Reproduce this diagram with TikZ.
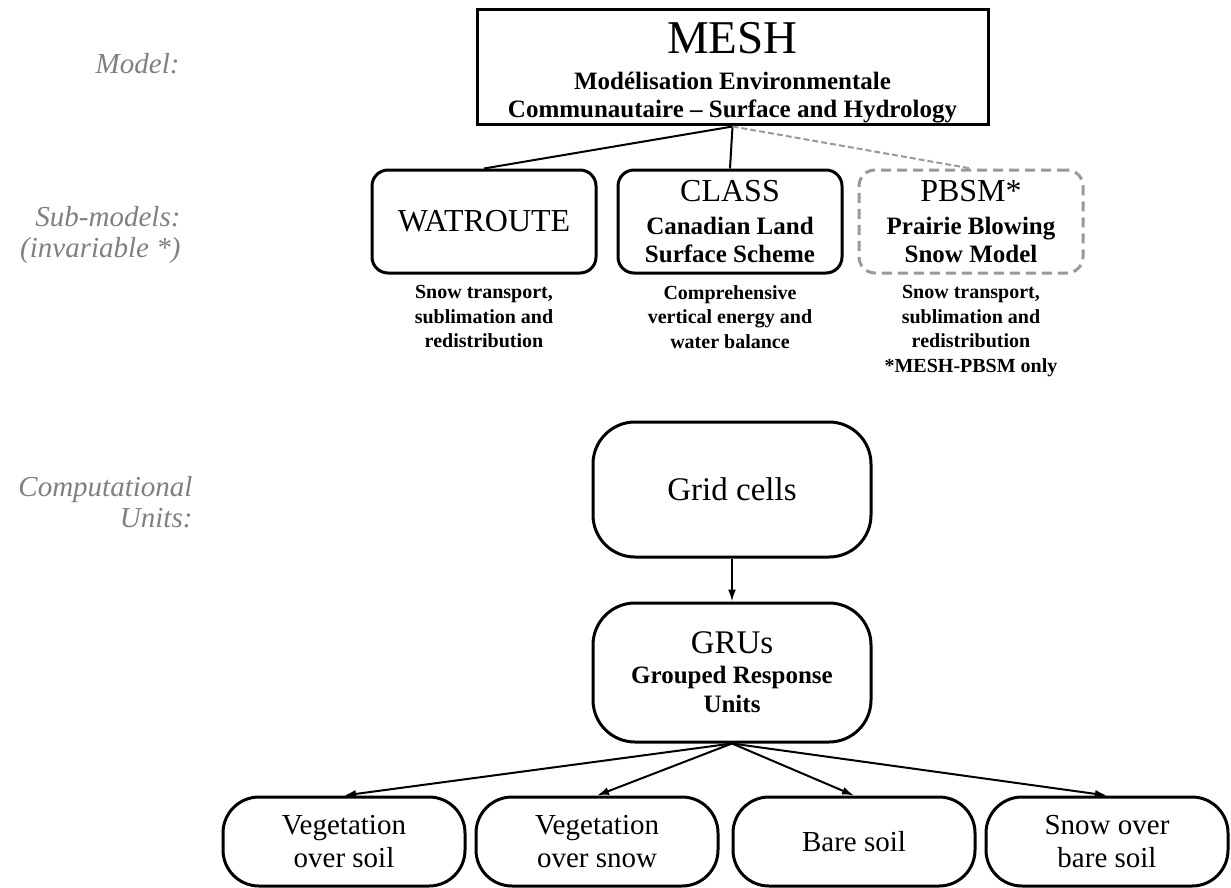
\documentclass[tikz,border=0pt]{standalone}
\usepackage{fontspec}
\setmainfont{Liberation Serif}
\usetikzlibrary{arrows.meta}

\begin{document}
\begin{tikzpicture}[x=1pt, y=-1pt,
    model box/.style={draw, line width=3pt, minimum width=511pt, minimum height=115pt,
                      inner sep=0pt, align=center, font=\fontsize{25}{28}\selectfont\bfseries},
    sub box/.style={draw, line width=3pt, rounded corners=16pt, minimum width=224pt,
                    minimum height=103pt, inner sep=0pt, align=center},
    unit box/.style={draw, line width=3pt, rounded corners=42pt, minimum width=278pt,
                     inner sep=0pt, align=center},
    leaf box/.style={draw, line width=3pt, rounded corners=36pt, minimum width=242pt,
                     minimum height=89pt, inner sep=0pt, align=center,
                     font=\fontsize{29}{33}\selectfont},
    row label/.style={anchor=east, align=right, text=black!50,
                      font=\fontsize{29}{31}\selectfont\itshape},
    note text/.style={anchor=north, align=center, font=\fontsize{20}{24.5}\selectfont\bfseries},
    link/.style={line width=2pt},
    arrow link/.style={line width=2pt, -{Latex[length=12pt,width=8pt]}}
  ]
  \useasboundingbox (0,0) rectangle (1231,888);

  % level captions
  \node[row label] (lmodel) at (183,64) {Model:};
  \node[row label] (lsub) at (184,235) {Sub-models:\\(invariable *)};
  \node[row label] (lunits) at (196,502) {Computational\\Units:};

  % model and sub-models
  \node[model box] (mesh) at (732.5,67.5)
    {\rule{0pt}{42pt}{\mdseries\fontsize{47}{47}\selectfont MESH}\\[8pt]
     Modélisation Environmentale\\
     Communautaire – Surface and Hydrology};

  \node[sub box, font=\fontsize{32}{34}\selectfont] (wat) at (484,221.5) {WATROUTE};
  \node[sub box, font=\fontsize{25}{28}\selectfont\bfseries] (class) at (730,221.5)
    {{\mdseries\fontsize{32}{32}\selectfont CLASS}\\[5pt] Canadian Land\\Surface Scheme};
  \node[sub box, draw=gray!80, dash pattern=on 10pt off 6pt,
        font=\fontsize{25}{28}\selectfont\bfseries] (pbsm) at (971,221.5)
    {{\mdseries\fontsize{32}{32}\selectfont PBSM*}\\[5pt] Prairie Blowing\\Snow Model};

  \node[note text] (watnote) at (484,282) {Snow transport,\\sublimation and\\redistribution};
  \node[note text] (classnote) at (730,282) {Comprehensive\\vertical energy and\\water balance};
  \node[note text] (pbsmnote) at (971,282)
    {Snow transport,\\sublimation and\\redistribution\\*MESH-PBSM only};

  \draw[link] (mesh.south) -- (wat.north);
  \draw[link] (mesh.south) -- (class.north);
  \draw[link, draw=gray!80, dash pattern=on 6pt off 3pt] (mesh.south) -- (pbsm.north);

  % computational units
  \node[unit box, minimum height=135pt, font=\fontsize{33}{36}\selectfont] (grid) at (732,489.5)
    {Grid cells};
  \node[unit box, minimum height=139pt, font=\fontsize{25}{29}\selectfont\bfseries] (grus) at (732,672.5)
    {{\mdseries\fontsize{33}{33}\selectfont GRUs}\\[1pt] Grouped Response\\Units};
  \draw[arrow link] (grid.south) -- (grus.north);

  \node[leaf box] (vsoil) at (344,841.5) {Vegetation\\over soil};
  \node[leaf box] (vsnow) at (597,841.5) {Vegetation\\over snow};
  \node[leaf box] (bare) at (854,841.5) {Bare soil};
  \node[leaf box] (sbare) at (1107,841.5) {Snow over\\bare soil};

  \foreach \leaf in {vsoil,vsnow,bare,sbare}
    \draw[arrow link] (grus.south) -- (\leaf.north);
\end{tikzpicture}
\end{document}
